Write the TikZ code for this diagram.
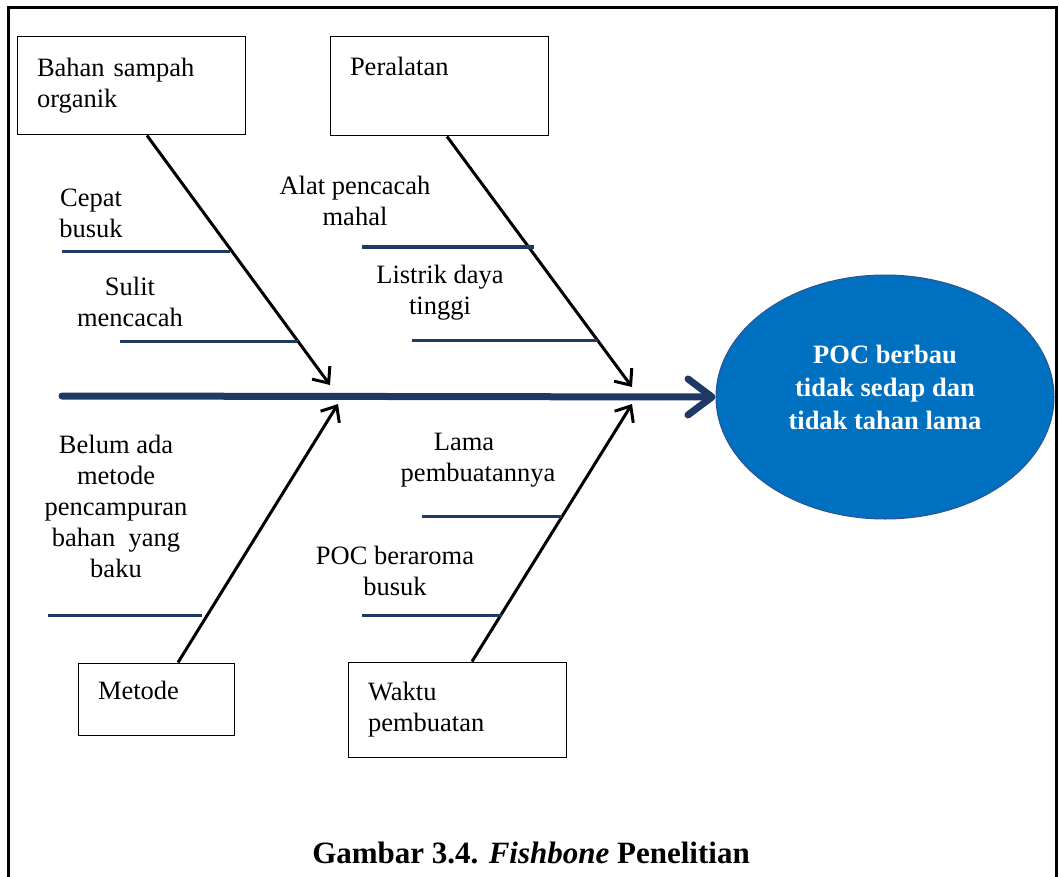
\documentclass[tikz,border=0pt]{standalone}
\usepackage{fontspec}
\setmainfont{Liberation Serif}
\usetikzlibrary{shapes.geometric, arrows.meta, positioning}

\definecolor{spinenavy}{RGB}{31,56,100}
\definecolor{effectblue}{RGB}{0,112,192}
\definecolor{effectline}{RGB}{47,82,143}

\begin{document}
\begin{tikzpicture}[
    x=1pt, y=-1pt,
    font=\fontsize{26.5pt}{31pt}\selectfont,
    box/.style={rectangle, draw, line width=1pt, align=left, inner xsep=20pt, inner ysep=0pt},
    effect/.style={ellipse, draw=effectline, line width=1pt, fill=effectblue, text=white,
        minimum width=338pt, minimum height=244pt, align=center, font=\fontsize{26.5pt}{33pt}\selectfont\bfseries},
    lbl/.style={align=center, inner sep=0pt},
    bone/.style={line width=3pt, -{Straight Barb[length=13pt, width=22pt]}},
    spine/.style={line width=7pt, spinenavy, line cap=round, -{Straight Barb[length=24pt, width=36pt, round]}},
    rib/.style={line width=3pt, spinenavy}
]

% Frame
\useasboundingbox (0,0) rectangle (1059,877);
\draw[line width=3pt] (8,880) -- (8,8) -- (1056,8) -- (1056,880);

% Cause boxes
\node[box, text width=188pt, minimum height=98pt] (bahan) at (131,86) {Bahan sampah\\organik};
\node[box, text width=178pt, minimum height=99pt] (alat) at (439,86.5) {Peralatan\\\strut};
\node[box, text width=116pt, minimum height=72pt] (metode) at (156,699) {\raisebox{9pt}[\height][\depth]{Metode}};
\node[box, text width=178pt, minimum height=95pt] (waktu) at (457,709.5) {Waktu\\pembuatan};

% Effect
\node[effect] (poc) at (885,397) {POC berbau\\tidak sedap dan\\tidak tahan lama\\[-13pt]};

% Spine
\coordinate (tail) at (62,396);
\draw[spine] (tail) -- (poc.west);

% Bones
\coordinate (tip1) at (330,385);
\coordinate (tip2) at (632,387);
\coordinate (tip3) at (338,404);
\coordinate (tip4) at (632,404);
\draw[bone] ([xshift=16pt]bahan.south) -- (tip1);
\draw[bone] ([xshift=8pt]alat.south) -- (tip2);
\draw[bone] ([xshift=22pt]metode.north) -- (tip3);
\draw[bone] ([xshift=15pt]waktu.north) -- (tip4);

% Ribs
\draw[rib] (62,251) -- (230,251);
\draw[rib] (120,341) -- (298,341);
\draw[rib] (362,247) -- (534,247);
\draw[rib] (412,340) -- (598,340);
\draw[rib] (48,615) -- (202,615);
\draw[rib] (422,516) -- (562,516);
\draw[rib] (362,615) -- (502,615);

% Sub-causes
\node[lbl] (cepat) at (91,213.5) {Cepat\\busuk};
\node[lbl] (sulit) at (130,302) {Sulit\\mencacah};
\node[lbl] (mahal) at (355,201) {Alat pencacah\\mahal};
\node[lbl] (listrik) at (440,293) {Listrik daya\\tinggi};
\node[lbl] (belum) at (116,506) {Belum ada\\metode\\pencampuran\\bahan\ \ yang\\baku};
\node[lbl] (lama) at (478,460) {Lama\hspace*{28pt}\\pembuatannya};
\node[lbl] (aroma) at (395,571) {POC beraroma\\busuk};

% Caption
\node[font=\fontsize{31pt}{36pt}\selectfont\bfseries] (caption) at (531,853) {Gambar 3.4. \textit{Fishbone} Penelitian};

\end{tikzpicture}
\end{document}
